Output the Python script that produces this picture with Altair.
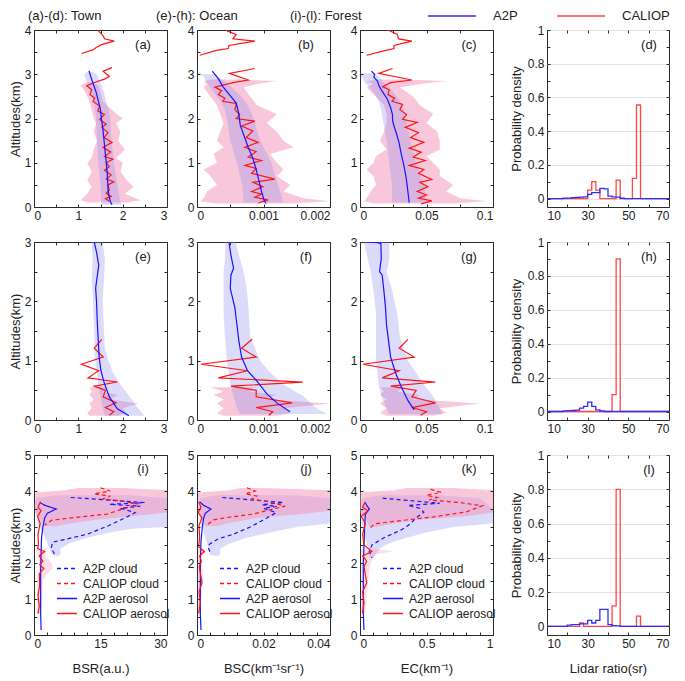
import altair as alt
import pandas as pd

FONT = "Liberation Sans"
BLUE = "#1414ff"
RED = "#ff1414"
HBLUE = "#2e2eff"
HRED = "#ff4545"
PINK = "#f48fb8"
LAV = "#8c8cf0"
INK = "#222222"
FRAME = "#2b2b2b"

HEADERS = ["(a)-(d): Town", "(e)-(h): Ocean", "(i)-(l): Forest"]
LABELS = ["(a)", "(b)", "(c)", "(d)", "(e)", "(f)", "(g)", "(h)", "(i)", "(j)", "(k)", "(l)"]
SERIES = ["A2P", "CALIOP"]
KINDS = ["A2P cloud", "CALIOP cloud", "A2P aerosol", "CALIOP aerosol"]
XTITLES = ["BSR(a.u.)", "BSC(km⁻¹sr⁻¹)", "EC(km⁻¹)", "Lidar ratio(sr)"]
YTITLE = "Altitudes(km)"
PTITLE = "Probability density"

# ---------------- tick values ----------------
BSR_LAB = [0, 1, 2, 3]
BSR_MIN = [0, 0.5, 1, 1.5, 2, 2.5, 3]
BSC_LAB = [0, 0.001, 0.002]
BSC_MIN = [0, 0.0005, 0.001, 0.0015, 0.002]
EC_LAB = [0, 0.05, 0.1]
EC_MIN = [0, 0.025, 0.05, 0.075, 0.1]
ALT4_LAB = [0, 1, 2, 3, 4]
ALT4_MIN = [0, 0.5, 1, 1.5, 2, 2.5, 3, 3.5, 4]
ALT3_LAB = [0, 1, 2, 3]
ALT3_MIN = [0, 0.5, 1, 1.5, 2, 2.5, 3]
ALT5_LAB = [0, 1, 2, 3, 4, 5]
ALT5_MIN = [0, 0.5, 1, 1.5, 2, 2.5, 3, 3.5, 4, 4.5, 5]
BSR3_LAB = [0, 15, 30]
BSR3_MIN = [0, 3, 6, 9, 12, 15, 18, 21, 24, 27, 30]
BSC3_LAB = [0, 0.02, 0.04]
BSC3_MIN = [0, 0.004, 0.008, 0.012, 0.016, 0.02, 0.024, 0.028, 0.032, 0.036, 0.04]
EC3_LAB = [0, 0.5, 1]
EC3_MIN = [0, 0.1, 0.2, 0.3, 0.4, 0.5, 0.6, 0.7, 0.8, 0.9, 1]
LR_LAB = [10, 30, 50, 70]
LR_MIN = [10, 20, 30, 40, 50, 60, 70]
PD_LAB = [0, 0.2, 0.4, 0.6, 0.8, 1]
PD_MIN = [0, 0.1, 0.2, 0.3, 0.4, 0.5, 0.6, 0.7, 0.8, 0.9, 1]

# ---------------- (a) Town BSR ----------------
A_BLUE = [(1.24, 3.08), (1.28, 2.95), (1.33, 2.8), (1.40, 2.6), (1.45, 2.4), (1.50, 2.2), (1.52, 2.0),
          (1.55, 1.8), (1.57, 1.6), (1.59, 1.4), (1.61, 1.2), (1.63, 1.0), (1.65, 0.8), (1.66, 0.6),
          (1.67, 0.4), (1.69, 0.25), (1.73, 0.1), (1.76, 0.05)]
A_RED = [(1.76, 3.15), (1.56, 3.07), (1.70, 2.95), (1.59, 2.89), (1.41, 2.83), (1.19, 2.74), (1.30, 2.65),
         (1.26, 2.54), (1.37, 2.46), (1.33, 2.39), (1.48, 2.28), (1.44, 2.17), (1.59, 2.09), (1.48, 1.98),
         (1.63, 1.87), (1.53, 1.80), (1.67, 1.68), (1.58, 1.57), (1.76, 1.46), (1.56, 1.35), (1.73, 1.24),
         (1.59, 1.14), (1.78, 1.08), (1.63, 1.00), (1.70, 0.91), (1.59, 0.83), (1.74, 0.72), (1.63, 0.63),
         (1.80, 0.57), (1.67, 0.50), (1.70, 0.39), (1.63, 0.31), (1.74, 0.24), (1.61, 0.19), (1.70, 0.13)]
A_RED_TOP = [(1.07, 3.47), (1.33, 3.55), (1.41, 3.61), (1.52, 3.67), (1.81, 3.75), (1.59, 3.80),
             (1.56, 3.87), (1.48, 3.95), (1.44, 4.0)]
A_LAV = [(3.05, 1.2, 1.32), (3.0, 1.13, 1.42), (2.8, 1.2, 1.5), (2.6, 1.28, 1.58), (2.4, 1.35, 1.62),
         (2.2, 1.38, 1.68), (2.0, 1.4, 1.72), (1.5, 1.42, 1.75), (1.0, 1.45, 1.8), (0.5, 1.5, 1.88),
         (0.1, 1.52, 1.95), (0.05, 1.55, 1.97)]
A_PINK = [(2.82, 1.2, 1.3), (2.75, 1.05, 1.45), (2.6, 1.15, 1.5), (2.4, 1.25, 1.55), (2.2, 1.3, 1.75),
          (2.0, 1.35, 2.0), (1.9, 1.4, 1.85), (1.7, 1.35, 1.95), (1.5, 1.42, 1.9), (1.3, 1.35, 2.05),
          (1.1, 1.3, 1.85), (1.0, 1.2, 2.0), (0.8, 1.3, 1.95), (0.6, 1.2, 2.1), (0.45, 1.3, 2.25),
          (0.3, 1.2, 2.05), (0.15, 1.05, 2.4), (0.1, 1.2, 2.1)]

# ---------------- (b) Town BSC ----------------
B_BLUE = [(0.00023, 3.07), (0.00032, 2.9), (0.00039, 2.72), (0.00048, 2.55), (0.00059, 2.35),
          (0.00063, 2.1), (0.00065, 1.85), (0.00071, 1.6), (0.00077, 1.35), (0.00084, 1.1),
          (0.00089, 0.85), (0.00093, 0.6), (0.00097, 0.35), (0.00101, 0.15), (0.00104, 0.08)]
B_RED = [(0.00087, 3.13), (0.00049, 3.02), (0.00077, 2.87), (0.00054, 2.81), (0.00027, 2.71),
         (0.00037, 2.63), (0.00032, 2.54), (0.00042, 2.46), (0.00039, 2.39), (0.00059, 2.34),
         (0.00057, 2.2), (0.00064, 2.09), (0.00059, 2.0), (0.00087, 1.94), (0.00067, 1.83),
         (0.00084, 1.72), (0.00074, 1.57), (0.00092, 1.46), (0.00072, 1.35), (0.00089, 1.25),
         (0.00077, 1.13), (0.00097, 1.05), (0.00072, 0.94), (0.00089, 0.87), (0.00082, 0.76),
         (0.00117, 0.63), (0.00084, 0.56), (0.00099, 0.46), (0.00082, 0.35), (0.00097, 0.29),
         (0.00087, 0.22), (0.00107, 0.16), (0.00092, 0.09)]
B_RED_TOP = [(0.00004, 3.43), (0.00029, 3.54), (0.00047, 3.58), (0.00048, 3.65), (0.00087, 3.75),
             (0.00054, 3.8), (0.00059, 3.9), (0.00047, 3.97), (0.00043, 4.0)]
B_LAV = [(3.0, 0.00005, 0.00028), (2.95, 0.0001, 0.00032), (2.8, 0.00015, 0.00045), (2.6, 0.00025, 0.0006),
         (2.4, 0.00035, 0.00072), (2.2, 0.00042, 0.0008), (2.0, 0.00045, 0.00085), (1.5, 0.0005, 0.00095),
         (1.0, 0.0006, 0.00112), (0.5, 0.00068, 0.00122), (0.1, 0.0007, 0.0013)]
B_PINK = [(2.88, 0.0002, 0.0006), (2.85, 0.0001, 0.0012), (2.78, 0.00015, 0.0009), (2.7, 0.0001, 0.0007),
          (2.5, 0.0002, 0.0008), (2.3, 0.0003, 0.0009), (2.1, 0.00035, 0.0012), (1.9, 0.0004, 0.00105),
          (1.7, 0.00035, 0.0012), (1.5, 0.0003, 0.0013), (1.35, 0.0004, 0.00145), (1.2, 0.00025, 0.0011),
          (1.0, 0.0003, 0.0012), (0.85, 0.0001, 0.0013), (0.7, 0.0002, 0.0012), (0.5, 0.0003, 0.0014),
          (0.35, 0.00015, 0.0013), (0.2, 0.0001, 0.0016), (0.13, 0.00005, 0.002), (0.08, 0.0003, 0.0014)]

# ---------------- (c) Town EC ----------------
C_BLUE = [(0.0085, 3.07), (0.011, 3.0), (0.0105, 2.93), (0.013, 2.85), (0.0146, 2.72), (0.017, 2.6),
          (0.0207, 2.43), (0.023, 2.25), (0.0244, 2.09), (0.0245, 1.95), (0.0256, 1.83), (0.0275, 1.65),
          (0.0293, 1.46), (0.031, 1.2), (0.033, 0.94), (0.0345, 0.7), (0.0354, 0.5), (0.0362, 0.3),
          (0.037, 0.1)]
C_RED = [(0.0244, 3.13), (0.0141, 3.02), (0.039, 2.87), (0.023, 2.81), (0.017, 2.72), (0.022, 2.65),
         (0.021, 2.54), (0.026, 2.46), (0.024, 2.39), (0.032, 2.32), (0.030, 2.2), (0.035, 2.09),
         (0.032, 1.98), (0.043, 1.91), (0.034, 1.8), (0.044, 1.68), (0.038, 1.57), (0.048, 1.46),
         (0.037, 1.33), (0.046, 1.24), (0.040, 1.13), (0.049, 1.05), (0.037, 0.94), (0.048, 0.85),
         (0.044, 0.76), (0.054, 0.62), (0.045, 0.56), (0.051, 0.46), (0.043, 0.35), (0.050, 0.27),
         (0.044, 0.2), (0.054, 0.14), (0.046, 0.07)]
C_RED_TOP = [(0.005, 3.43), (0.0195, 3.54), (0.0256, 3.58), (0.0256, 3.65), (0.039, 3.75), (0.029, 3.8),
             (0.028, 3.9), (0.023, 3.97), (0.021, 4.0)]
C_LAV = [(3.02, 0.0, 0.008), (3.0, 0.0, 0.012), (2.9, 0.002, 0.016), (2.8, 0.004, 0.018), (2.6, 0.01, 0.025),
         (2.4, 0.014, 0.03), (2.2, 0.016, 0.033), (2.0, 0.017, 0.034), (1.5, 0.02, 0.038), (1.0, 0.022, 0.042),
         (0.5, 0.024, 0.048), (0.1, 0.024, 0.05)]
C_PINK = [(2.88, 0.015, 0.03), (2.85, 0.005, 0.065), (2.78, 0.01, 0.045), (2.7, 0.005, 0.03), (2.5, 0.012, 0.04),
          (2.3, 0.018, 0.045), (2.1, 0.02, 0.055), (1.9, 0.02, 0.05), (1.7, 0.018, 0.058), (1.5, 0.015, 0.06),
          (1.3, 0.02, 0.06), (1.15, 0.012, 0.05), (1.0, 0.01, 0.055), (0.85, 0.005, 0.06), (0.7, 0.01, 0.06),
          (0.5, 0.012, 0.07), (0.35, 0.008, 0.065), (0.2, 0.005, 0.075), (0.13, 0.003, 0.095), (0.08, 0.01, 0.07)]

# ---------------- (e) Ocean BSR ----------------
E_BLUE = [(1.36, 3.0), (1.41, 2.83), (1.46, 2.61), (1.43, 2.44), (1.39, 2.22), (1.41, 2.0), (1.43, 1.61),
          (1.45, 1.33), (1.47, 1.06), (1.51, 0.83), (1.59, 0.61), (1.70, 0.39), (1.88, 0.19), (2.14, 0.07)]
E_RED = [(1.53, 1.36), (1.36, 1.21), (1.56, 1.06), (1.07, 0.94), (1.46, 0.83), (1.22, 0.71), (1.88, 0.64),
         (1.36, 0.57), (1.61, 0.5), (1.56, 0.39), (1.85, 0.29), (1.61, 0.21), (1.80, 0.14), (1.70, 0.08)]
E_LAV = [(3.0, 1.3, 1.55), (2.7, 1.32, 1.6), (2.4, 1.3, 1.58), (2.0, 1.33, 1.55), (1.5, 1.36, 1.58),
         (1.2, 1.36, 1.6), (1.0, 1.38, 1.68), (0.8, 1.42, 1.78), (0.6, 1.45, 1.95), (0.4, 1.5, 2.15),
         (0.2, 1.55, 2.35), (0.07, 1.6, 2.48)]
E_PINK = [(0.55, 1.25, 1.65), (0.48, 1.3, 1.55), (0.42, 1.25, 1.9), (0.35, 1.35, 1.7), (0.28, 1.25, 2.35),
          (0.2, 1.3, 2.0), (0.12, 1.2, 2.1), (0.07, 1.25, 1.9)]

# ---------------- (f) Ocean BSC ----------------
F_BLUE = [(0.00048, 3.0), (0.00051, 2.78), (0.00055, 2.56), (0.00051, 2.44), (0.0005, 2.22), (0.00057, 1.89),
          (0.0006, 1.61), (0.00063, 1.33), (0.00067, 1.06), (0.00076, 0.83), (0.00089, 0.67), (0.00105, 0.44),
          (0.00121, 0.28), (0.0014, 0.14)]
F_RED = [(0.00083, 1.36), (0.00067, 1.21), (0.00089, 1.06), (0.00006, 0.94), (0.00076, 0.83), (0.00032, 0.71),
         (0.00159, 0.64), (0.00051, 0.57), (0.00089, 0.5), (0.00089, 0.39), (0.00143, 0.29), (0.00089, 0.21),
         (0.00114, 0.14), (0.00108, 0.08)]
F_LAV = [(3.0, 0.00043, 0.00058), (2.7, 0.00042, 0.00065), (2.5, 0.0004, 0.0007), (2.2, 0.0004, 0.00075),
         (1.8, 0.0004, 0.00078), (1.4, 0.00042, 0.0008), (1.0, 0.00045, 0.00095), (0.8, 0.00048, 0.0011),
         (0.6, 0.0005, 0.0013), (0.4, 0.00055, 0.0016), (0.2, 0.0006, 0.0018), (0.1, 0.00065, 0.00195)]
F_PINK = [(0.55, 0.0002, 0.00085), (0.48, 0.0004, 0.0008), (0.42, 0.00025, 0.0012), (0.35, 0.0004, 0.001),
          (0.28, 0.0003, 0.002), (0.2, 0.0004, 0.0013), (0.12, 0.0003, 0.0014), (0.07, 0.0004, 0.0012)]

# ---------------- (g) Ocean EC ----------------
G_BLUE = [(0.0054, 3.0), (0.0135, 2.99), (0.0157, 2.97), (0.016, 2.72), (0.0147, 2.5), (0.0167, 2.44),
          (0.018, 2.17), (0.0192, 1.89), (0.0199, 1.61), (0.0215, 1.33), (0.023, 1.06), (0.027, 0.78),
          (0.031, 0.56), (0.036, 0.33), (0.0407, 0.17)]
G_RED = [(0.036, 1.36), (0.0295, 1.21), (0.0407, 1.06), (0.0022, 0.94), (0.0295, 0.83), (0.0167, 0.71),
         (0.0567, 0.64), (0.023, 0.57), (0.0423, 0.5), (0.039, 0.39), (0.0567, 0.29), (0.039, 0.21),
         (0.05, 0.14), (0.0455, 0.08)]
G_LAV = [(3.0, 0.003, 0.022), (2.7, 0.006, 0.022), (2.5, 0.008, 0.02), (2.2, 0.01, 0.024), (1.8, 0.012, 0.028),
         (1.4, 0.012, 0.03), (1.0, 0.012, 0.036), (0.8, 0.013, 0.042), (0.6, 0.014, 0.048), (0.4, 0.016, 0.055),
         (0.2, 0.02, 0.06), (0.1, 0.022, 0.062)]
G_PINK = [(0.55, 0.015, 0.032), (0.48, 0.018, 0.028), (0.42, 0.015, 0.045), (0.35, 0.02, 0.04),
          (0.28, 0.015, 0.09), (0.2, 0.02, 0.06), (0.12, 0.015, 0.065), (0.07, 0.02, 0.055)]

# ---------------- (i) Forest BSR ----------------
I_A2P_CLOUD = [(8.3, 3.82), (25.0, 3.68), (17.0, 3.63), (24.0, 3.58), (19.5, 3.52), (22.8, 3.40), (20.5, 3.25),
               (16.5, 3.02), (12.0, 2.80), (6.8, 2.65), (4.2, 2.58), (3.9, 2.42), (4.8, 2.2)]
I_CAL_CLOUD = [(15.0, 4.09), (17.2, 4.0), (13.5, 3.92), (17.2, 3.86), (15.5, 3.78), (20.0, 3.72), (23.5, 3.64),
               (20.0, 3.5), (16.5, 3.36), (9.0, 3.26), (4.0, 3.19), (2.4, 3.05)]
I_A2P_AER = [(1.3, 3.68), (2.5, 3.6), (5.0, 3.5), (3.0, 3.38), (2.4, 3.25), (2.0, 3.0), (1.7, 2.7), (1.6, 2.3),
             (1.5, 1.8), (1.5, 1.2), (1.5, 0.6), (1.6, 0.14)]
I_CAL_AER = [(1.5, 3.7), (0.9, 3.55), (1.6, 3.45), (0.8, 3.3), (1.4, 3.1), (0.9, 2.8), (1.0, 2.5), (0.8, 2.4),
             (2.4, 2.32), (1.2, 2.2), (2.0, 2.05), (1.3, 1.95), (2.2, 1.85), (1.2, 1.7), (1.3, 1.4), (0.9, 1.1),
             (1.2, 0.8), (0.9, 0.59)]
I_LAV = [(3.88, 5, 22), (3.8, 0.5, 30), (3.6, 0, 30), (3.0, 1, 30), (2.95, 1.5, 22), (2.85, 2, 17),
         (2.7, 2.5, 12), (2.55, 3, 8), (2.4, 3.5, 6), (2.25, 4, 6), (2.2, 4.5, 5.5)]
I_PINK = [(4.08, 10, 20), (4.02, 7, 30), (3.96, 0.3, 30), (3.4, 0.3, 30), (3.3, 1, 22), (3.2, 1.5, 14),
          (3.1, 2, 8), (3.02, 2.5, 5)]
I_PINK_AER = [(2.4, 0.5, 3), (2.2, 0.8, 2.5), (2.0, 1, 4), (1.85, 1.2, 4.2), (1.7, 1, 3), (1.5, 0.8, 2),
              (1.0, 0.7, 1.8), (0.6, 0.8, 1.5)]

# ---------------- (j) Forest BSC ----------------
J_A2P_CLOUD = [(0.0076, 3.82), (0.026, 3.68), (0.0195, 3.62), (0.024, 3.57), (0.020, 3.52), (0.0238, 3.40),
               (0.021, 3.25), (0.016, 3.0), (0.011, 2.8), (0.0066, 2.68), (0.0037, 2.52), (0.0035, 2.4),
               (0.0042, 2.23)]
J_CAL_CLOUD = [(0.015, 4.09), (0.0175, 4.0), (0.0145, 3.92), (0.018, 3.86), (0.0165, 3.78), (0.0215, 3.7),
               (0.0265, 3.58), (0.022, 3.48), (0.017, 3.36), (0.0095, 3.27), (0.005, 3.2), (0.003, 3.05)]
J_A2P_AER = [(0.0008, 3.7), (0.002, 3.6), (0.0042, 3.5), (0.0025, 3.38), (0.002, 3.25), (0.0016, 3.0),
             (0.0012, 2.6), (0.001, 2.0), (0.001, 1.2), (0.001, 0.6), (0.0012, 0.14)]
J_CAL_AER = [(0.0005, 3.7), (0.0012, 3.55), (0.0004, 3.4), (0.0015, 3.25), (0.0006, 3.05), (0.0008, 2.7),
             (0.0005, 2.45), (0.0022, 2.32), (0.0008, 2.2), (0.0013, 2.05), (0.0007, 1.9), (0.0015, 1.45),
             (0.0006, 1.2), (0.001, 0.9), (0.0005, 0.6)]
J_LAV = [(3.88, 0.006, 0.03), (3.8, 0.001, 0.04), (3.1, 0.001, 0.04), (3.0, 0.0015, 0.03), (2.85, 0.002, 0.022),
         (2.7, 0.0025, 0.015), (2.55, 0.003, 0.01), (2.4, 0.0035, 0.007), (2.25, 0.004, 0.007), (2.2, 0.005, 0.0065)]
J_PINK = [(4.08, 0.013, 0.02), (4.02, 0.01, 0.04), (3.96, 0.0003, 0.04), (3.45, 0.0003, 0.04), (3.35, 0.001, 0.03),
          (3.25, 0.0015, 0.018), (3.12, 0.002, 0.01), (3.02, 0.0025, 0.006)]
J_PINK_AER = [(2.4, 0.0003, 0.002), (2.32, 0.0003, 0.003), (2.2, 0.0004, 0.0015), (1.5, 0.0003, 0.0018),
              (1.0, 0.0003, 0.0012), (0.6, 0.0003, 0.001)]

# ---------------- (k) Forest EC ----------------
K_A2P_CLOUD = [(0.17, 3.8), (0.6, 3.66), (0.36, 3.6), (0.45, 3.52), (0.48, 3.41), (0.42, 3.25), (0.38, 3.09),
               (0.31, 2.92), (0.18, 2.7), (0.09, 2.5), (0.07, 2.32), (0.09, 2.14)]
K_CAL_CLOUD = [(0.53, 4.05), (0.61, 3.96), (0.5, 3.88), (0.58, 3.82), (0.52, 3.75), (0.75, 3.68), (0.92, 3.59),
               (0.8, 3.42), (0.55, 3.28), (0.31, 3.18), (0.11, 3.09), (0.07, 2.95)]
K_A2P_AER = [(0.04, 3.68), (0.05, 3.6), (0.07, 3.5), (0.04, 3.35), (0.035, 3.0), (0.03, 2.5), (0.025, 2.0),
             (0.025, 1.2), (0.025, 0.6), (0.03, 0.14)]
K_CAL_AER = [(0.04, 3.7), (0.02, 3.55), (0.06, 3.45), (0.01, 3.3), (0.04, 3.1), (0.02, 2.8), (0.03, 2.5),
             (0.09, 2.32), (0.02, 2.2), (0.05, 2.05), (0.03, 1.9), (0.05, 1.45), (0.02, 1.2), (0.03, 0.9),
             (0.02, 0.6)]
K_LAV = [(3.88, 0.15, 0.6), (3.8, 0.02, 0.9), (3.5, 0.01, 1.0), (3.1, 0.01, 1.0), (3.0, 0.02, 0.7),
         (2.85, 0.03, 0.5), (2.7, 0.04, 0.35), (2.55, 0.05, 0.22), (2.4, 0.06, 0.15), (2.25, 0.06, 0.12),
         (2.15, 0.07, 0.1)]
K_PINK = [(4.08, 0.35, 0.7), (4.02, 0.25, 1.0), (3.96, 0.0, 1.0), (3.4, 0.0, 1.0), (3.3, 0.03, 0.8),
          (3.2, 0.05, 0.45), (3.1, 0.06, 0.25), (3.0, 0.07, 0.12)]
K_PINK_AER = [(2.4, 0.01, 0.1), (2.32, 0.01, 0.25), (2.25, 0.01, 0.12), (2.0, 0.01, 0.08), (1.5, 0.01, 0.06),
              (1.0, 0.01, 0.05), (0.6, 0.01, 0.04)]

# ---------------- lidar-ratio histograms (bins of 2 sr from 10 to 70) ----------------
LR_EDGES = [10, 12, 14, 16, 18, 20, 22, 24, 26, 28, 30, 32, 34, 36, 38, 40, 42, 44, 46, 48,
            50, 52, 54, 56, 58, 60, 62, 64, 66, 68, 70]
D_RED = [0, 0, 0, 0, 0, 0, 0, 0, 0, 0, 0.05, 0.1, 0.05, 0, 0, 0, 0, 0.11, 0, 0,
         0, 0.12, 0.555, 0, 0, 0, 0, 0, 0, 0]
D_BLUE = [0, 0, 0, 0, 0.003, 0.003, 0.006, 0.007, 0.008, 0.01, 0.025, 0.035, 0.035, 0.06, 0.058, 0.015,
          0.01, 0.008, 0.002, 0, 0, 0, 0, 0, 0, 0, 0, 0, 0, 0]
H_RED = [0, 0, 0, 0, 0, 0, 0, 0, 0, 0, 0, 0, 0, 0, 0, 0, 0.1, 0.9, 0, 0,
         0, 0, 0, 0, 0, 0, 0, 0, 0, 0]
H_BLUE = [0, 0, 0, 0, 0.004, 0.005, 0.006, 0.008, 0.02, 0.03, 0.055, 0.03, 0.01, 0.003, 0, 0,
          0, 0, 0, 0, 0, 0, 0, 0, 0, 0, 0, 0, 0, 0]
L_RED = [0, 0, 0, 0, 0, 0, 0, 0, 0.02, 0, 0, 0, 0, 0, 0, 0, 0.12, 0.8, 0, 0,
         0, 0, 0.06, 0, 0, 0, 0, 0, 0, 0]
L_BLUE = [0, 0, 0, 0, 0, 0.008, 0.01, 0.01, 0.015, 0.015, 0.035, 0.02, 0.035, 0.1, 0.1, 0.01,
          0.005, 0.003, 0, 0, 0, 0, 0, 0, 0, 0, 0, 0, 0, 0]

# ---------------- layout ----------------
W = 133
WD = 122
H1, H2, H3 = 177, 178, 180
GAP1 = 26   # spacer width between the profile columns
GAP2 = 50   # spacer width before the histogram column
FMT = ".6~g"


def line_df(*segments):
    rows = []
    for s, seg in enumerate(segments):
        for k, (x, y) in enumerate(seg):
            rows.append({"x": x, "y": y, "i": k, "seg": s})
    return pd.DataFrame(rows)


def band_df(triples):
    return pd.DataFrame(triples, columns=["y", "lo", "hi"])


def sc(dom):
    return alt.Scale(domain=dom, nice=False, zero=False)


def ax_lab(orient, vals, title=None, grid=False, tpad=2):
    kw = dict(orient=orient, values=vals, format=FMT, ticks=False, domain=False, grid=grid,
              labelPadding=3, title=title, titlePadding=tpad)
    if grid:
        kw["gridColor"] = "#e3e3e3"
    return alt.Axis(**kw)


def ax_tk(orient, vals, off):
    return alt.Axis(orient=orient, values=vals, labels=False, ticks=True, tickSize=3, domain=False,
                    grid=False, title=None, offset=off, zindex=1)


def text_layer(text, x, y, align="center", size=13):
    return alt.Chart(pd.DataFrame({"t": [text]})).mark_text(
        fontSize=size, font=FONT, align=align, baseline="middle", color=INK
    ).encode(x=alt.value(x), y=alt.value(y), text="t:N")


def profile(H, xdom, xlab, xmin, ydom, ylab, ymin, pink, lav, blue, reds, label, ytitle=None, extra=()):
    Y = lambda ax: alt.Y("y:Q", scale=sc(ydom), axis=ax)
    pink_l = alt.Chart(band_df(pink)).mark_area(orient="horizontal", color=PINK, opacity=0.5, clip=True).encode(
        y=Y(None), x=alt.X("lo:Q", scale=sc(xdom), axis=None), x2=alt.X2("hi"))
    lav_l = alt.Chart(band_df(lav)).mark_area(orient="horizontal", color=LAV, opacity=0.3, clip=True).encode(
        y=Y(ax_tk("left", ymin, -W)), x=alt.X("lo:Q", scale=sc(xdom), axis=ax_tk("bottom", xmin, -H)),
        x2=alt.X2("hi"))
    red_l = alt.Chart(line_df(*reds)).mark_line(color=RED, strokeWidth=1.2, clip=True).encode(
        y=Y(ax_tk("right", ymin, -W)), x=alt.X("x:Q", scale=sc(xdom), axis=ax_tk("top", xmin, -H)),
        detail="seg:N", order="i:Q")
    blue_l = alt.Chart(line_df(blue)).mark_line(color=BLUE, strokeWidth=1.2, clip=True).encode(
        y=Y(ax_lab("left", ylab, ytitle)), x=alt.X("x:Q", scale=sc(xdom), axis=ax_lab("bottom", xlab)),
        order="i:Q")
    return alt.layer(pink_l, lav_l, red_l, blue_l, text_layer(label, W - 24, 15), *extra).properties(
        width=W, height=H)


def forest(xdom, xlab, xmin, lines, lav, pink, pink_aer, label, xtitle, ytitle=None):
    H = H3
    ydom = [0, 5]
    Y = lambda ax: alt.Y("y:Q", scale=sc(ydom), axis=ax)
    rows = []
    for kind, seg in zip(KINDS, lines):
        for k, (x, y) in enumerate(seg):
            rows.append({"x": x, "y": y, "i": k, "kind": kind})
    ldf = pd.DataFrame(rows)
    leg = alt.Legend(orient="none", legendX=22, legendY=106, title=None, symbolType="stroke",
                     symbolSize=400, symbolStrokeWidth=1.4, labelFontSize=12, labelFont=FONT,
                     labelOffset=5, rowPadding=0, clipHeight=15, labelColor=INK)
    lav_l = alt.Chart(band_df(lav)).mark_area(orient="horizontal", color=LAV, opacity=0.3, clip=True).encode(
        y=Y(ax_tk("left", ALT5_MIN, -W)), x=alt.X("lo:Q", scale=sc(xdom), axis=ax_tk("bottom", xmin, -H)),
        x2=alt.X2("hi"))
    pink_l = alt.Chart(band_df(pink)).mark_area(orient="horizontal", color=PINK, opacity=0.5, clip=True).encode(
        y=Y(ax_tk("right", ALT5_MIN, -W)), x=alt.X("lo:Q", scale=sc(xdom), axis=ax_tk("top", xmin, -H)),
        x2=alt.X2("hi"))
    pa_l = alt.Chart(band_df(pink_aer)).mark_area(orient="horizontal", color=PINK, opacity=0.3, clip=True).encode(
        y=Y(None), x=alt.X("lo:Q", scale=sc(xdom), axis=None), x2=alt.X2("hi"))
    lines_l = alt.Chart(ldf).mark_line(strokeWidth=1.2, clip=True).encode(
        y=Y(ax_lab("left", ALT5_LAB, ytitle)),
        x=alt.X("x:Q", scale=sc(xdom), axis=ax_lab("bottom", xlab, xtitle, tpad=13)),
        color=alt.Color("kind:N", scale=alt.Scale(domain=KINDS, range=[BLUE, RED, BLUE, RED]), legend=leg),
        strokeDash=alt.StrokeDash("kind:N", scale=alt.Scale(domain=KINDS, range=[[4, 3], [4, 3], [1, 0], [1, 0]]),
                                  legend=leg),
        order="i:Q")
    return alt.layer(lav_l, pink_l, pa_l, lines_l, text_layer(label, W - 24, 14)).properties(width=W, height=H)


def hist_df(vals, name):
    rows = []
    for k, e in enumerate(LR_EDGES):
        v = vals[k] if k < len(vals) else vals[-1]
        rows.append({"x": e, "y": v, "i": k, "s": name})
    return pd.DataFrame(rows)


def hist(H, red, blue, label, xtitle=None, legend=False):
    xdom = [10, 70]
    ydom = [-0.05, 1]
    if legend:
        leg = alt.Legend(orient="none", legendX=-120, legendY=-21, direction="horizontal", title=None,
                         symbolType="stroke", symbolSize=2304, symbolStrokeWidth=1.5, labelFontSize=13,
                         labelFont=FONT, labelOffset=16, columnPadding=38, clipHeight=14, labelColor=INK)
    else:
        leg = None
    col = alt.Color("s:N", scale=alt.Scale(domain=SERIES, range=[HBLUE, HRED]), legend=leg)
    Y = lambda ax: alt.Y("y:Q", scale=sc(ydom), axis=ax)
    X = lambda ax: alt.X("x:Q", scale=sc(xdom), axis=ax)
    red_l = alt.Chart(hist_df(red, "CALIOP")).mark_line(interpolate="step-after", strokeWidth=1.3, clip=True).encode(
        x=X(ax_lab("bottom", LR_LAB, xtitle, tpad=13)), y=Y(ax_lab("left", PD_LAB, PTITLE, grid=True, tpad=4)),
        color=col, order="i:Q")
    blue_l = alt.Chart(hist_df(blue, "A2P")).mark_line(interpolate="step-after", strokeWidth=1.3, clip=True).encode(
        x=X(ax_tk("top", LR_MIN, -H)), y=Y(ax_tk("right", PD_MIN, -WD)), color=col, order="i:Q")
    ghost = alt.Chart(hist_df(blue, "A2P")).mark_line(interpolate="step-after", opacity=0).encode(
        x=X(ax_tk("bottom", LR_MIN, -H)), y=Y(ax_tk("left", PD_MIN, -WD)), order="i:Q")
    return alt.layer(red_l, blue_l, ghost, text_layer(label, WD - 20, 15)).properties(width=WD, height=H)


def spacer(w, h):
    return alt.Chart(pd.DataFrame({"t": [""]})).mark_text().encode(text="t:N").properties(
        width=w, height=h, view=alt.ViewBackground(stroke="transparent"))


headers = (text_layer(HEADERS[0], -6, -14, align="left"),
           text_layer(HEADERS[1], 122, -14, align="left"),
           text_layer(HEADERS[2], 256, -14, align="left"))

pa = profile(H1, [0, 3], BSR_LAB, BSR_MIN, [0, 4], ALT4_LAB, ALT4_MIN, A_PINK, A_LAV, A_BLUE,
             [A_RED, A_RED_TOP], LABELS[0], ytitle=YTITLE, extra=headers)
pb = profile(H1, [0, 0.002], BSC_LAB, BSC_MIN, [0, 4], ALT4_LAB, ALT4_MIN, B_PINK, B_LAV, B_BLUE,
             [B_RED, B_RED_TOP], LABELS[1])
pc = profile(H1, [0, 0.1], EC_LAB, EC_MIN, [0, 4], ALT4_LAB, ALT4_MIN, C_PINK, C_LAV, C_BLUE,
             [C_RED, C_RED_TOP], LABELS[2])
pdd = hist(H1, D_RED, D_BLUE, LABELS[3], legend=True)

pe = profile(H2, [0, 3], BSR_LAB, BSR_MIN, [0, 3], ALT3_LAB, ALT3_MIN, E_PINK, E_LAV, E_BLUE,
             [E_RED], LABELS[4], ytitle=YTITLE)
pf = profile(H2, [0, 0.002], BSC_LAB, BSC_MIN, [0, 3], ALT3_LAB, ALT3_MIN, F_PINK, F_LAV, F_BLUE,
             [F_RED], LABELS[5])
pg = profile(H2, [0, 0.1], EC_LAB, EC_MIN, [0, 3], ALT3_LAB, ALT3_MIN, G_PINK, G_LAV, G_BLUE,
             [G_RED], LABELS[6])
ph = hist(H2, H_RED, H_BLUE, LABELS[7])

pi = forest([0, 30], BSR3_LAB, BSR3_MIN, [I_A2P_CLOUD, I_CAL_CLOUD, I_A2P_AER, I_CAL_AER], I_LAV, I_PINK,
            I_PINK_AER, LABELS[8], XTITLES[0], ytitle=YTITLE)
pj = forest([0, 0.04], BSC3_LAB, BSC3_MIN, [J_A2P_CLOUD, J_CAL_CLOUD, J_A2P_AER, J_CAL_AER], J_LAV, J_PINK,
            J_PINK_AER, LABELS[9], XTITLES[1])
pk = forest([0, 1], EC3_LAB, EC3_MIN, [K_A2P_CLOUD, K_CAL_CLOUD, K_A2P_AER, K_CAL_AER], K_LAV, K_PINK,
            K_PINK_AER, LABELS[10], XTITLES[2])
pl = hist(H3, L_RED, L_BLUE, LABELS[11], xtitle=XTITLES[3])

cells = []
for (p1, p2, p3, p4), h in zip([(pa, pb, pc, pdd), (pe, pf, pg, ph), (pi, pj, pk, pl)], [H1, H2, H3]):
    cells += [p1, spacer(GAP1, h), p2, spacer(GAP1, h), p3, spacer(GAP2, h), p4]

chart = alt.concat(*cells, columns=7, spacing={"row": 35, "column": 2}, bounds="flush").resolve_scale(
    color="independent", strokeDash="independent"
).properties(
    padding={"left": 0, "top": 0, "right": 0, "bottom": 0}
).configure_view(stroke=FRAME, strokeWidth=1).configure_axis(
    labelFont=FONT, titleFont=FONT, labelFontSize=12, titleFontSize=13, labelColor=INK, titleColor=INK,
    titleFontWeight="normal", tickColor=FRAME, tickWidth=1
).configure_legend(labelFont=FONT, labelColor=INK).configure_title(font=FONT)

chart.save("out.html", embed_options={"renderer": "svg", "actions": False})
